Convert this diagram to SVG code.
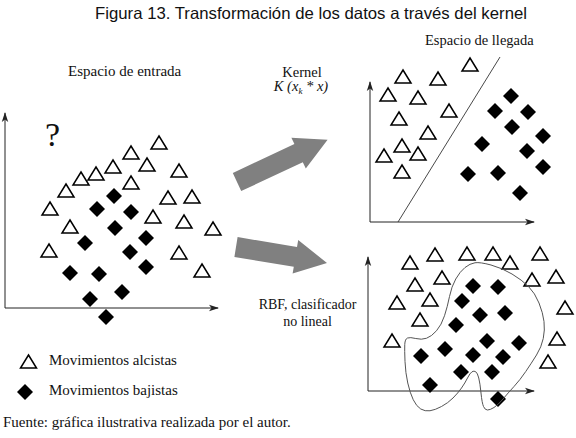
<svg xmlns="http://www.w3.org/2000/svg" xmlns:xlink="http://www.w3.org/1999/xlink" width="576" height="438" viewBox="0 0 576 438">
<style>
.t{fill:#fff;stroke:#000;stroke-width:1.5;stroke-linejoin:miter}
.d{fill:#000}
.ax{stroke:#222;stroke-width:1;fill:none;marker-end:url(#ah)}
.serif{font-family:"Liberation Serif","Times New Roman",serif;fill:#111}
.big{fill:#808080}
</style>
<defs>
<path id="tri" d="M0,-7 L8,6 L-8,6 Z"/>
<path id="dia" d="M0,-8 L8,0 L0,8 L-8,0 Z"/>
<marker id="ah" viewBox="0 0 10 8" refX="9" refY="4" markerWidth="10" markerHeight="8" markerUnits="userSpaceOnUse" orient="auto">
<path d="M0,0.8 L10,4 L0,7.2 L2.5,4 Z" fill="#222"/>
</marker>
</defs>
<rect width="576" height="438" fill="#fff"/>

<g id="title">
<text x="95" y="19" font-family="'Liberation Sans',Arial,sans-serif" font-size="16.5" textLength="432" lengthAdjust="spacingAndGlyphs" fill="#111">Figura 13. Transformación de los datos a través del kernel</text>
</g>

<g id="input-space">
<text class="serif" x="68" y="76" font-size="15">Espacio de entrada</text>
<text class="serif" x="45" y="146" font-size="34">?</text>
<line class="ax" x1="5" y1="308" x2="5" y2="113"/>
<line class="ax" x1="5" y1="308" x2="218" y2="308"/>
<g class="t">
<use href="#tri" x="159" y="143"/><use href="#tri" x="131" y="153"/><use href="#tri" x="147" y="165"/>
<use href="#tri" x="113" y="167"/><use href="#tri" x="96" y="174"/><use href="#tri" x="81" y="179"/>
<use href="#tri" x="179" y="171"/><use href="#tri" x="131" y="183"/><use href="#tri" x="66" y="191"/>
<use href="#tri" x="168" y="198"/><use href="#tri" x="192" y="197"/><use href="#tri" x="50" y="209"/>
<use href="#tri" x="153" y="217"/><use href="#tri" x="184" y="222"/><use href="#tri" x="213" y="229"/>
<use href="#tri" x="70" y="227"/><use href="#tri" x="49" y="251"/><use href="#tri" x="179" y="253"/>
<use href="#tri" x="202" y="271"/>
</g>
<g class="d">
<use href="#dia" x="114" y="196"/><use href="#dia" x="97" y="209"/><use href="#dia" x="131" y="212"/>
<use href="#dia" x="115" y="228"/><use href="#dia" x="146" y="238"/><use href="#dia" x="85" y="243"/>
<use href="#dia" x="130" y="252"/><use href="#dia" x="70" y="273"/><use href="#dia" x="99" y="274"/>
<use href="#dia" x="146" y="267"/><use href="#dia" x="122" y="292"/><use href="#dia" x="90" y="299"/>
<use href="#dia" x="106" y="317"/>
</g>
</g>

<g id="kernel-label">
<text class="serif" x="302" y="77" font-size="14.5" text-anchor="middle">Kernel</text>
<text class="serif" x="301" y="91" font-size="14.5" text-anchor="middle" font-style="italic">K (x<tspan font-size="9" dy="3">k</tspan><tspan dy="-3"> * x)</tspan></text>
</g>

<g id="rbf-label">
<text class="serif" x="307.5" y="309" font-size="14" text-anchor="middle">RBF, clasificador</text>
<text class="serif" x="307.5" y="326" font-size="14" text-anchor="middle">no lineal</text>
</g>

<g id="connectors">
<polygon class="big" points="232.8,172.9 294.4,144.1 291.4,137.8 327.6,139.7 305.8,168.6 302.8,162.3 241.2,191.1"/>
<polygon class="big" points="237.6,237.1 297,246.9 298.2,240 327,263 292.6,273.6 293.8,266.7 234.4,256.9"/>
</g>

<g id="feature-space">
<text class="serif" x="425" y="45" font-size="14.5">Espacio de llegada</text>
<line class="ax" x1="370" y1="222" x2="370" y2="82"/>
<line class="ax" x1="370" y1="222" x2="534" y2="222"/>
<line x1="398" y1="222" x2="500" y2="57" stroke="#333" stroke-width="0.9"/>
<g class="t">
<use href="#tri" x="470" y="65"/><use href="#tri" x="403" y="77"/><use href="#tri" x="438" y="79"/>
<use href="#tri" x="388" y="95"/><use href="#tri" x="418" y="98"/><use href="#tri" x="449" y="111"/>
<use href="#tri" x="399" y="119"/><use href="#tri" x="428" y="133"/><use href="#tri" x="402" y="146"/>
<use href="#tri" x="384" y="156"/><use href="#tri" x="418" y="154"/><use href="#tri" x="402" y="172"/>
</g>
<g class="d">
<use href="#dia" x="511" y="96"/><use href="#dia" x="495" y="111"/><use href="#dia" x="528" y="112"/>
<use href="#dia" x="512" y="127"/><use href="#dia" x="543" y="136"/><use href="#dia" x="482" y="144"/>
<use href="#dia" x="527" y="151"/><use href="#dia" x="468" y="174"/><use href="#dia" x="498" y="173"/>
<use href="#dia" x="543" y="167"/><use href="#dia" x="520" y="193"/>
</g>
</g>

<g id="rbf-space">
<line class="ax" x1="368" y1="391" x2="368" y2="257"/>
<line class="ax" x1="368" y1="391" x2="534" y2="391"/>
<g class="t">
<use href="#tri" x="435" y="255"/><use href="#tri" x="467" y="254"/><use href="#tri" x="493" y="254"/>
<use href="#tri" x="540" y="254"/><use href="#tri" x="410" y="263"/><use href="#tri" x="510" y="263"/>
<use href="#tri" x="442" y="278"/><use href="#tri" x="415" y="285"/><use href="#tri" x="532" y="280"/>
<use href="#tri" x="556" y="277"/><use href="#tri" x="397" y="303"/><use href="#tri" x="430" y="300"/>
<use href="#tri" x="565" y="308"/><use href="#tri" x="420" y="320"/><use href="#tri" x="392" y="341"/>
<use href="#tri" x="557" y="339"/><use href="#tri" x="548" y="362"/>
</g>
<g class="d">
<use href="#dia" x="473" y="286"/><use href="#dia" x="498" y="287"/><use href="#dia" x="462" y="301"/>
<use href="#dia" x="480" y="315"/><use href="#dia" x="505" y="313"/><use href="#dia" x="456" y="325"/>
<use href="#dia" x="487" y="341"/><use href="#dia" x="519" y="343"/><use href="#dia" x="445" y="349"/>
<use href="#dia" x="421" y="356"/><use href="#dia" x="473" y="355"/><use href="#dia" x="503" y="357"/>
<use href="#dia" x="461" y="372"/><use href="#dia" x="492" y="372"/><use href="#dia" x="430" y="385"/>
<use href="#dia" x="498" y="399"/>
</g>
<path fill="none" stroke="#555" stroke-width="1" d="M475,262.75 Q480,262 491,265 Q502,268 512,274 Q522,280 528.5,286.5 Q535,293 539,303 Q543,313 544,321.5 Q545,330 543.25,338.5 Q541.5,347 536.5,355 Q531.5,363 525.75,371.5 Q520,380 514,386.5 Q508,393 503,399 Q498,405 494,407.5 Q490,410 487.5,410 Q485,410 483.5,406.5 Q482,403 481,393 Q480,383 478.75,378 Q477.5,373 475.75,371.75 Q474,370.5 472,371.75 Q470,373 467.5,378 Q465,383 461.5,388 Q458,393 453,398 Q448,403 441.5,406.5 Q435,410 430,410.75 Q425,411.5 420.75,409 Q416.5,406.5 413.25,399.75 Q410,393 407.75,383 Q405.5,373 405,361.5 Q404.5,350 404.75,344.5 Q405,339 407.5,338 Q410,337 415.75,338.5 Q421.5,340 426.5,338.25 Q431.5,336.5 436.5,330.75 Q441.5,325 444.5,315.75 Q447.5,306.5 449.5,296.5 Q451.5,286.5 455.75,279 Q460,271.5 465,267.5 Q470,263.5 475,262.75 Z"/>
</g>

<g id="legend">
<use class="t" href="#tri" x="28.5" y="362"/>
<text class="serif" x="49" y="365" font-size="15">Movimientos alcistas</text>
<use class="d" href="#dia" x="25" y="392"/>
<text class="serif" x="49" y="395" font-size="15">Movimientos bajistas</text>
</g>

<g id="source">
<text class="serif" x="3" y="427" font-size="15">Fuente: gráfica ilustrativa realizada por el autor.</text>
</g>
</svg>
